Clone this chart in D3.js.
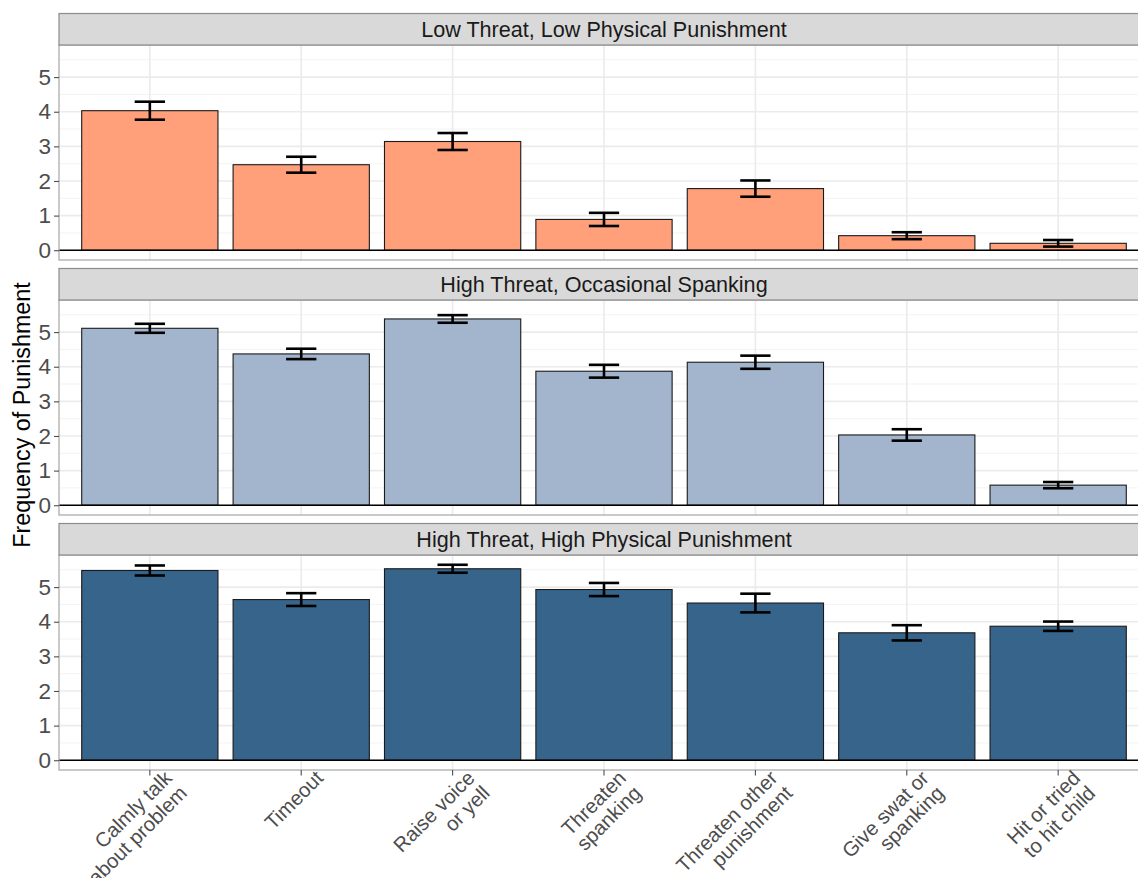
<!DOCTYPE html>
<html>
<head>
<meta charset="utf-8">
<script src="https://cdn.jsdelivr.net/npm/d3@7"></script>
<style>
  html, body { margin: 0; padding: 0; background: #ffffff; }
  svg { display: block; font-family: "Liberation Sans", Arial, sans-serif; }
</style>
</head>
<body>
<svg id="chart" width="1138" height="878"></svg>
<script>
// Punishment strategies on the x axis (multi-line labels split on "\n")
const categories = [
  "Calmly talk\nabout problem",
  "Timeout",
  "Raise voice\nor yell",
  "Threaten\nspanking",
  "Threaten other\npunishment",
  "Give swat or\nspanking",
  "Hit or tried\nto hit child"
];

// Facet (parenting profile) names
const groups = [
  "Low Threat, Low Physical Punishment",
  "High Threat, Occasional Spanking",
  "High Threat, High Physical Punishment"
];

// Mean frequency per strategy, one array per profile
const lowThreatMeans      = [4.03, 2.47, 3.14, 0.89, 1.78, 0.42, 0.20];
const occasionalMeans     = [5.11, 4.37, 5.38, 3.87, 4.13, 2.03, 0.58];
const highPhysicalMeans   = [5.48, 4.64, 5.53, 4.93, 4.54, 3.68, 3.87];

// Standard errors (half-length of each error bar)
const lowThreatSE         = [0.26, 0.23, 0.245, 0.19, 0.235, 0.10, 0.095];
const occasionalSE        = [0.13, 0.15, 0.11, 0.185, 0.19, 0.165, 0.09];
const highPhysicalSE      = [0.145, 0.185, 0.115, 0.19, 0.27, 0.22, 0.135];

const yTicks = [0, 1, 2, 3, 4, 5];
const fills = ["#FFA07A", "#A2B5CD", "#36648B"];

const means = [lowThreatMeans, occasionalMeans, highPhysicalMeans];
const ses = [lowThreatSE, occasionalSE, highPhysicalSE];

// ---- layout ----
const left = 59, right = 1149;      // panel runs slightly past the right edge of the canvas
const stripTop0 = 13.5, stripH = 31.5, plotH = 215, panelStep = 255;

const svg = d3.select("#chart");

// shared y domain: 0 .. max(upper error) with 5% expansion both sides
const yMaxData = d3.max(means.flatMap((m, g) => m.map((v, i) => v + ses[g][i])));
const yDomain = [-0.05 * yMaxData, yMaxData * 1.05];

// discrete x scale: 0.6-unit padding each side, bars 0.9 of a step wide
const x = d3.scaleBand()
  .domain(categories)
  .range([left, right])
  .paddingInner(0.1)
  .paddingOuter(0.15);
const step = x.step();
const xc = d => x(d) + x.bandwidth() / 2;

groups.forEach((gname, g) => {
  const stripTop = stripTop0 + g * panelStep;
  const plotTop = stripTop + stripH;
  const plotBottom = plotTop + plotH;

  const y = d3.scaleLinear().domain(yDomain).range([plotBottom, plotTop]);

  const panel = svg.append("g");

  panel.append("rect")
    .attr("x", left).attr("y", plotTop)
    .attr("width", right - left).attr("height", plotH)
    .attr("fill", "#ffffff");

  // grid
  const minor = d3.range(0.5, yDomain[1], 1);
  panel.selectAll(".minor").data(minor).enter().append("line")
    .attr("x1", left).attr("x2", right)
    .attr("y1", d => y(d)).attr("y2", d => y(d))
    .attr("stroke", "#f3f3f3").attr("stroke-width", 1);

  panel.selectAll(".major").data(yTicks).enter().append("line")
    .attr("x1", left).attr("x2", right)
    .attr("y1", d => y(d)).attr("y2", d => y(d))
    .attr("stroke", "#ebebeb").attr("stroke-width", 1.6);

  panel.selectAll(".vmajor").data(categories).enter().append("line")
    .attr("x1", d => xc(d)).attr("x2", d => xc(d))
    .attr("y1", plotTop).attr("y2", plotBottom)
    .attr("stroke", "#ebebeb").attr("stroke-width", 1.6);

  // bars
  panel.selectAll(".bar").data(categories).enter().append("rect")
    .attr("x", d => x(d))
    .attr("width", x.bandwidth())
    .attr("y", (d, i) => y(means[g][i]))
    .attr("height", (d, i) => y(0) - y(means[g][i]))
    .attr("fill", fills[g])
    .attr("stroke", "#1a1a1a")
    .attr("stroke-width", 1.1);

  // zero reference line
  panel.append("line")
    .attr("x1", left).attr("x2", right)
    .attr("y1", y(0)).attr("y2", y(0))
    .attr("stroke", "#000000").attr("stroke-width", 1.3);

  // error bars (cap width 0.2 of a category step)
  const capHalf = 0.1 * step;
  const eb = panel.selectAll(".eb").data(categories).enter().append("g");
  eb.append("line")
    .attr("x1", d => xc(d)).attr("x2", d => xc(d))
    .attr("y1", (d, i) => y(means[g][i] + ses[g][i]))
    .attr("y2", (d, i) => y(means[g][i] - ses[g][i]))
    .attr("stroke", "#000").attr("stroke-width", 2.6);
  eb.append("line")
    .attr("x1", d => xc(d) - capHalf).attr("x2", d => xc(d) + capHalf)
    .attr("y1", (d, i) => y(means[g][i] + ses[g][i]))
    .attr("y2", (d, i) => y(means[g][i] + ses[g][i]))
    .attr("stroke", "#000").attr("stroke-width", 2.6);
  eb.append("line")
    .attr("x1", d => xc(d) - capHalf).attr("x2", d => xc(d) + capHalf)
    .attr("y1", (d, i) => y(means[g][i] - ses[g][i]))
    .attr("y2", (d, i) => y(means[g][i] - ses[g][i]))
    .attr("stroke", "#000").attr("stroke-width", 2.6);

  // panel border
  panel.append("rect")
    .attr("x", left).attr("y", plotTop)
    .attr("width", right - left).attr("height", plotH)
    .attr("fill", "none").attr("stroke", "#a6a6a6").attr("stroke-width", 1.2);

  // strip
  panel.append("rect")
    .attr("x", left).attr("y", stripTop)
    .attr("width", right - left).attr("height", stripH)
    .attr("fill", "#d9d9d9").attr("stroke", "#8c8c8c").attr("stroke-width", 1.2);
  panel.append("text")
    .attr("x", (left + right) / 2).attr("y", stripTop + stripH / 2)
    .attr("text-anchor", "middle").attr("dominant-baseline", "central")
    .attr("font-size", 21.6).attr("fill", "#1a1a1a")
    .text(gname);

  // y axis
  const yAxis = d3.axisLeft(y).tickValues(yTicks).tickFormat(d3.format("d"))
    .tickSize(5).tickPadding(3);
  const ya = panel.append("g").attr("transform", `translate(${left},0)`).call(yAxis);
  ya.select(".domain").remove();
  ya.selectAll(".tick line").attr("stroke", "#4d4d4d").attr("stroke-width", 1.1);
  ya.selectAll(".tick text")
    .attr("font-size", 22.5).attr("fill", "#4d4d4d")
    .attr("font-family", "\"Liberation Sans\", Arial, sans-serif");

  // x axis only under the bottom panel
  if (g === groups.length - 1) {
    const xa = panel.append("g").attr("transform", `translate(0,${plotBottom})`)
      .call(d3.axisBottom(x).tickSize(5.5).tickFormat(""));
    xa.select(".domain").remove();
    xa.selectAll(".tick line").attr("stroke", "#4d4d4d").attr("stroke-width", 1.1);

    categories.forEach(c => {
      const lines = c.split("\n");
      const t = panel.append("text")
        .attr("transform", `translate(${xc(c) + 13},${plotBottom - 1}) rotate(-45)`)
        .attr("text-anchor", "end")
        .attr("font-size", 20.3)
        .attr("fill", "#4d4d4d");
      lines.forEach((ln, k) => {
        t.append("tspan")
          .attr("x", 0)
          .attr("dy", k === 0 ? "0.72em" : "1.05em")
          .text(ln);
      });
    });
  }
});

// y axis title
svg.append("text")
  .attr("transform", `translate(30,415) rotate(-90)`)
  .attr("text-anchor", "middle")
  .attr("font-size", 23.3)
  .attr("fill", "#000")
  .text("Frequency of Punishment");
</script>
</body>
</html>
